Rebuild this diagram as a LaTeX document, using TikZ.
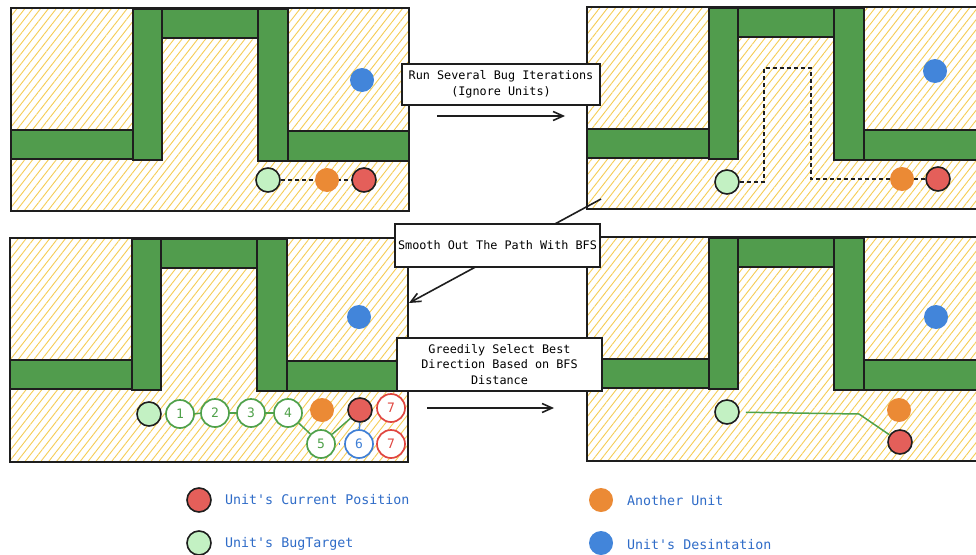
\documentclass[tikz,border=0pt]{standalone}
\usepackage{fontspec}
\setmonofont{DejaVu Sans Mono}
\usetikzlibrary{arrows.meta,patterns.meta}

\definecolor{wallgreen}{HTML}{519C4D}
\definecolor{hatch}{HTML}{F6CD55}
\definecolor{ink}{HTML}{1E1E1E}
\definecolor{bugtarget}{HTML}{C3F1C3}
\definecolor{otherunit}{HTML}{EB8A35}
\definecolor{curpos}{HTML}{E45F5A}
\definecolor{destin}{HTML}{4285DA}
\definecolor{stepgreen}{HTML}{4FA14A}
\definecolor{stepblue}{HTML}{3F7FD6}
\definecolor{stepred}{HTML}{E0453F}
\definecolor{legendtext}{HTML}{2F6CC8}

\tikzset{
  panelframe/.style={draw=ink, line width=1.5pt},
  wall/.style={fill=wallgreen, draw=ink, line width=1.4pt},
  unitdot/.style={circle, minimum size=24pt, inner sep=0pt},
  outlined/.style={unitdot, draw=ink, line width=1.6pt},
  stepc/.style={circle, draw=#1, text=#1, fill=white, line width=1.7pt,
    minimum size=28pt, inner sep=0pt, font=\fontsize{13}{15}\selectfont\ttfamily},
  steplink/.style={draw=#1, line width=1.5pt},
  pathdash/.style={draw=ink, line width=1.6pt, dash pattern=on 4pt off 3pt},
  caption/.style={draw=ink, fill=white, line width=1.5pt, inner sep=0pt, align=center,
    font=\fontsize{11.8}{15.5}\selectfont\ttfamily},
  flow/.style={draw=ink, line width=1.6pt, -{Straight Barb[length=10pt,width=9pt]}},
  legdot/.style={circle, minimum size=24pt, inner sep=0pt},
  legtext/.style={anchor=west, inner sep=0pt, text=legendtext,
    font=\fontsize{13.3}{16}\selectfont\ttfamily},
}

% maze panel: hatched floor, frame and the green walls
\newcommand{\mazepanel}[3]{%
  \begin{scope}[shift={(#1,#2)}]
    \path[pattern={Lines[angle=52,distance=6.2pt,line width=0.9pt]}, pattern color=hatch]
      (0,0) rectangle (398,#3);
    \draw[panelframe] (0,0) rectangle (398,#3);
    \draw[wall] (0,122) rectangle (122,151);
    \draw[wall] (277,123) rectangle (398,153);
    \draw[wall] (151,1) rectangle (247,30);
    \draw[wall] (122,1) rectangle (151,152);
    \draw[wall] (247,1) rectangle (277,153);
  \end{scope}}

\begin{document}
\begin{tikzpicture}[x=1pt,y=-1pt]
\useasboundingbox (0,0) rectangle (976,554);
\clip (0,0) rectangle (976,554);
\fill[white] (0,0) rectangle (976,554);

% ---------- four maze panels ----------
\mazepanel{11}{8}{203}
\mazepanel{587}{7}{202}
\mazepanel{10}{238}{224}
\mazepanel{587}{237}{224}

% ---------- panel 1: straight bug line ----------
\node[outlined, fill=bugtarget] (g1) at (268,180) {};
\node[outlined, fill=curpos] (r1) at (364,180) {};
\draw[pathdash] (g1) -- (r1);
\node[unitdot, fill=otherunit] (o1) at (327,180) {};
\node[unitdot, fill=destin] (b1) at (362,80) {};

% ---------- panel 2: bug path around the walls ----------
\node[outlined, fill=bugtarget] (g2) at (727,182) {};
\node[outlined, fill=curpos] (r2) at (938,179) {};
\coordinate (p2a) at (764,182);
\coordinate (p2b) at (764,68);
\coordinate (p2c) at (811,68);
\coordinate (p2d) at (811,179);
\draw[pathdash] (g2) -- (p2a) -- (p2b) -- (p2c) -- (p2d) -- (r2);
\node[unitdot, fill=otherunit] (o2) at (902,179) {};
\node[unitdot, fill=destin] (b2) at (935,71) {};

% ---------- panel 3: BFS distances ----------
\node[outlined, fill=bugtarget] (g3) at (149,414) {};
\node[stepc=stepgreen] (n1) at (180,414) {1};
\node[stepc=stepgreen] (n2) at (215,413) {2};
\node[stepc=stepgreen] (n3) at (251,413) {3};
\node[stepc=stepgreen] (n4) at (288,413) {4};
\node[stepc=stepgreen] (n5) at (321,444) {5};
\node[stepc=stepblue] (n6) at (359,444) {6};
\node[stepc=stepred] (n7a) at (391,408) {7};
\node[stepc=stepred] (n7b) at (391,444) {7};
\node[unitdot, fill=otherunit] (o3) at (322,410) {};
\node[outlined, fill=curpos] (r3) at (360,410) {};
\node[unitdot, fill=destin] (b3) at (359,317) {};
\draw[steplink=stepgreen] (n1) -- (n2);
\draw[steplink=stepgreen] (n2) -- (n3);
\draw[steplink=stepgreen] (n3) -- (n4);
\draw[steplink=stepgreen] (n4) -- (n5);
\draw[steplink=stepgreen] (n5) -- (r3);
\draw[steplink=stepblue, shorten <=3pt, shorten >=4pt] (n5) -- (n6);
\draw[steplink=stepblue] (r3) -- (n6);

% ---------- panel 4: greedy path ----------
\node[outlined, fill=bugtarget] (g4) at (727,412) {};
\node[outlined, fill=curpos] (r4) at (900,442) {};
\node[unitdot, fill=otherunit] (o4) at (899,410) {};
\node[unitdot, fill=destin] (b4) at (936,317) {};
\coordinate (bend4) at (859,414);
\draw[steplink=stepgreen, shorten <=6pt] (g4) -- (bend4) -- (r4);

% ---------- step captions and arrows ----------
\coordinate (a1s) at (437,116);
\coordinate (a1e) at (565,116);
\draw[flow] (a1s) -- (a1e);
\node[caption, minimum width=198pt, minimum height=41pt] (c1) at (501,84.5)
  {Run Several Bug Iterations\\(Ignore Units)};

\coordinate (a2s) at (601,199);
\coordinate (a2e) at (409,303);
\draw[flow] (a2s) -- (a2e);
\node[caption, minimum width=205pt, minimum height=43pt] (c2) at (497.5,245.5)
  {Smooth Out The Path With BFS};

\coordinate (a3s) at (427,408);
\coordinate (a3e) at (554,408);
\draw[flow] (a3s) -- (a3e);
\node[caption, minimum width=205pt, minimum height=53pt] (c3) at (499.5,364.5)
  {Greedily Select Best\\Direction Based on BFS\\Distance};

% ---------- legend ----------
\node[legdot, fill=curpos, draw=ink, line width=1.6pt] (lr) at (199,500) {};
\node[legtext] (lrt) at (225,500) {Unit's Current Position};
\node[legdot, fill=bugtarget, draw=ink, line width=1.6pt] (lg) at (199,543) {};
\node[legtext] (lgt) at (225,544) {Unit's BugTarget};
\node[legdot, fill=otherunit] (lo) at (601,500) {};
\node[legtext] (lot) at (627,501) {Another Unit};
\node[legdot, fill=destin] (lb) at (601,543) {};
\node[legtext] (lbt) at (627,545) {Unit's Desintation};
\end{tikzpicture}
\end{document}
